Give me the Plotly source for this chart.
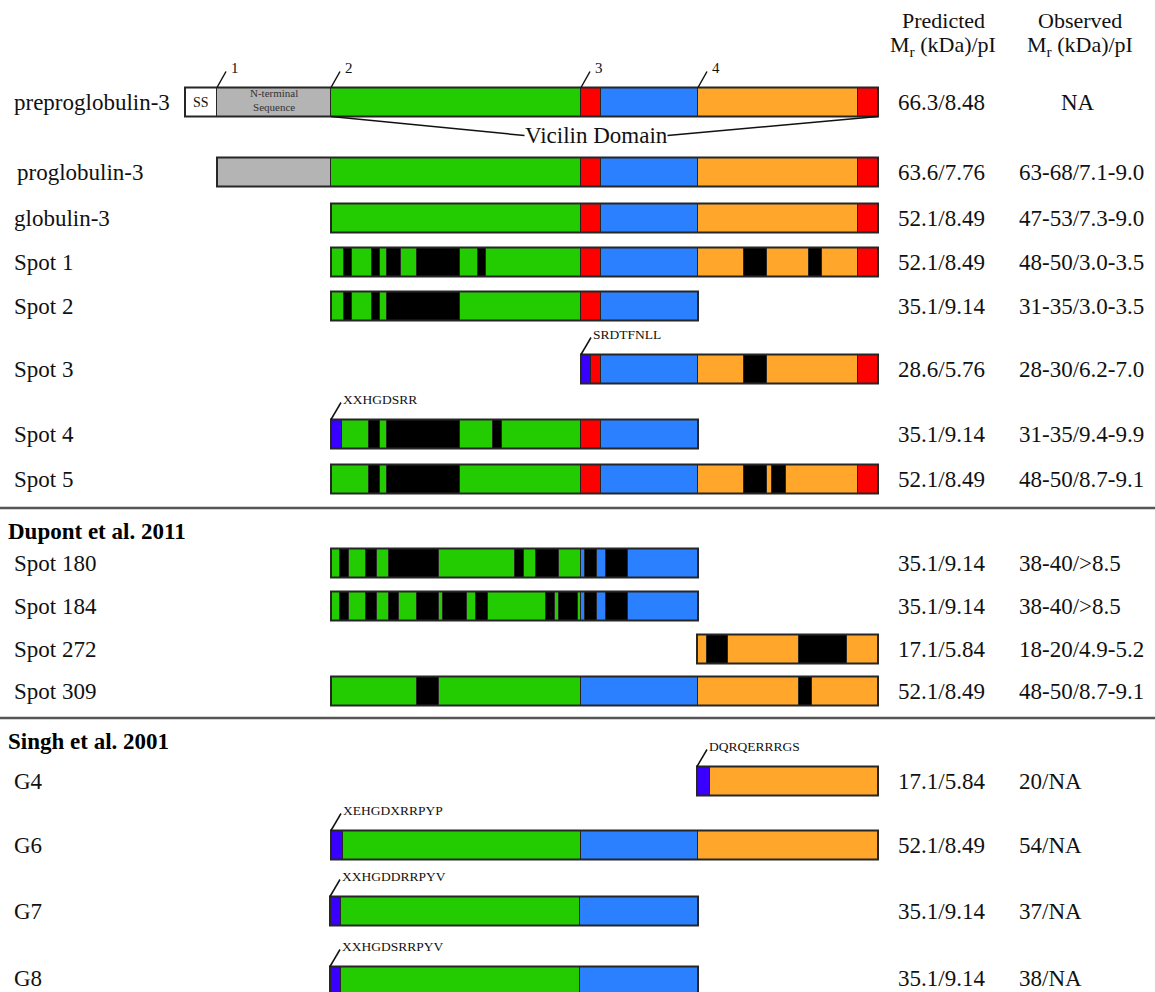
import plotly.graph_objects as go

# ---------------- data ----------------
row_labels = ["preproglobulin-3", "proglobulin-3", "globulin-3", "Spot 1", "Spot 2", "Spot 3",
              "Spot 4", "Spot 5", "Spot 180", "Spot 184", "Spot 272", "Spot 309",
              "G4", "G6", "G7", "G8"]
predicted = ["66.3/8.48", "63.6/7.76", "52.1/8.49", "52.1/8.49", "35.1/9.14", "28.6/5.76",
             "35.1/9.14", "52.1/8.49", "35.1/9.14", "35.1/9.14", "17.1/5.84", "52.1/8.49",
             "17.1/5.84", "52.1/8.49", "35.1/9.14", "35.1/9.14"]
observed = ["NA", "63-68/7.1-9.0", "47-53/7.3-9.0", "48-50/3.0-3.5", "31-35/3.0-3.5", "28-30/6.2-7.0",
            "31-35/9.4-9.9", "48-50/8.7-9.1", "38-40/>8.5", "38-40/>8.5", "18-20/4.9-5.2", "48-50/8.7-9.1",
            "20/NA", "54/NA", "37/NA", "38/NA"]

# segments: (start, end, kind) along the protein axis
seg_prepro = [(185, 217, "ss"), (217, 331, "nt"), (331, 581, "g"), (581, 601, "r"), (601, 698, "b"), (698, 858, "o"), (858, 878, "r")]
seg_pro = [(217, 331, "nt"), (331, 581, "g"), (581, 601, "r"), (601, 698, "b"), (698, 858, "o"), (858, 878, "r")]
seg_glob = [(331, 581, "g"), (581, 601, "r"), (601, 698, "b"), (698, 858, "o"), (858, 878, "r")]
seg_s1 = [(331, 344, "g"), (344, 352, "k"), (352, 372, "g"), (372, 380, "k"), (380, 387, "g"), (387, 401, "k"),
          (401, 417, "g"), (417, 460, "k"), (460, 478, "g"), (478, 486, "k"), (486, 581, "g"), (581, 601, "r"),
          (601, 698, "b"), (698, 744, "o"), (744, 767, "k"), (767, 809, "o"), (809, 822, "k"), (822, 858, "o"), (858, 878, "r")]
seg_s2 = [(331, 344, "g"), (344, 352, "k"), (352, 372, "g"), (372, 380, "k"), (380, 387, "g"), (387, 460, "k"),
          (460, 581, "g"), (581, 601, "r"), (601, 698, "b")]
seg_s3 = [(581, 591, "v"), (591, 601, "r"), (601, 698, "b"), (698, 744, "o"), (744, 767, "k"), (767, 858, "o"), (858, 878, "r")]
seg_s4 = [(331, 342, "v"), (342, 369, "g"), (369, 380, "k"), (380, 387, "g"), (387, 460, "k"), (460, 493, "g"),
          (493, 502, "k"), (502, 581, "g"), (581, 601, "r"), (601, 698, "b")]
seg_s5 = [(331, 369, "g"), (369, 380, "k"), (380, 387, "g"), (387, 460, "k"), (460, 581, "g"), (581, 601, "r"),
          (601, 698, "b"), (698, 744, "o"), (744, 767, "k"), (767, 772, "o"), (772, 786, "k"), (786, 858, "o"), (858, 878, "r")]
seg_s180 = [(331, 340, "g"), (340, 349, "k"), (349, 366, "g"), (366, 377, "k"), (377, 389, "g"), (389, 439, "k"),
            (439, 515, "g"), (515, 524, "k"), (524, 536, "g"), (536, 559, "k"), (559, 581, "g"), (581, 585, "b"),
            (585, 597, "k"), (597, 606, "b"), (606, 628, "k"), (628, 698, "b")]
seg_s184 = [(331, 340, "g"), (340, 349, "k"), (349, 366, "g"), (366, 377, "k"), (377, 389, "g"), (389, 399, "k"),
            (399, 417, "g"), (417, 439, "k"), (439, 443, "g"), (443, 467, "k"), (467, 476, "g"), (476, 488, "k"),
            (488, 546, "g"), (546, 555, "k"), (555, 559, "g"), (559, 578, "k"), (578, 581, "g"), (581, 585, "b"),
            (585, 597, "k"), (597, 606, "b"), (606, 628, "k"), (628, 698, "b")]
seg_s272 = [(697, 707, "o"), (707, 728, "k"), (728, 799, "o"), (799, 847, "k"), (847, 878, "o")]
seg_s309 = [(331, 417, "g"), (417, 439, "k"), (439, 581, "g"), (581, 698, "b"), (698, 799, "o"), (799, 812, "k"), (812, 878, "o")]
seg_g4 = [(697, 710, "v"), (710, 878, "o")]
seg_g6 = [(331, 343, "v"), (343, 581, "g"), (581, 698, "b"), (698, 878, "o")]
seg_g7 = [(330, 341, "v"), (341, 580, "g"), (580, 698, "b")]
seg_g8 = [(330, 341, "v"), (341, 580, "g"), (580, 698, "b")]

row_segments = [seg_prepro, seg_pro, seg_glob, seg_s1, seg_s2, seg_s3, seg_s4, seg_s5,
                seg_s180, seg_s184, seg_s272, seg_s309, seg_g4, seg_g6, seg_g7, seg_g8]

# N-terminal sequencing tags: (row index, sequence)
tag_rows = [5, 6, 12, 13, 14, 15]
tag_seqs = ["SRDTFNLL", "XXHGDSRR", "DQRQERRRGS", "XEHGDXRRPYP", "XXHGDDRRPYV", "XXHGDSRRPYV"]

# cleavage sites marked on preproglobulin
site_labels = ["1", "2", "3", "4"]
site_positions = [217, 331, 581, 698]

section_titles = ["Dupont et al. 2011", "Singh et al. 2001"]

# ---------------- layout / style ----------------
row_y = [102, 172, 218, 262, 306, 369, 434, 479, 563, 606, 649, 691, 781, 845, 911, 981]
label_dy = [0, 0, 0, 0, 0, 0, 0, 0, 0, 0, 0, 0, 0, 0, 0, -3]
section_y = [531, 741]
separator_y = [508, 718]
BAR_H = 29
colors = {"ss": "#FFFFFF", "nt": "#B4B4B4", "g": "#22CC00", "r": "#FF0000", "b": "#2A80FF",
          "o": "#FFA62B", "k": "#000000", "v": "#3A00FF"}
SERIF = "Liberation Serif, Times New Roman, serif"
EDGE = "#262626"
FS = 23

fig = go.Figure()

# bars grouped by colour
for kind, col in colors.items():
    ys, bases, lens = [], [], []
    for ri, segs in enumerate(row_segments):
        for s, e, k in segs:
            if k == kind:
                ys.append(row_y[ri]); bases.append(s); lens.append(e - s)
    if ys:
        fig.add_trace(go.Bar(orientation="h", y=ys, x=lens, base=bases, width=BAR_H,
                             marker=dict(color=col, line=dict(color=EDGE, width=1)),
                             showlegend=False, hoverinfo="skip"))

# outline of each bar
for ri, segs in enumerate(row_segments):
    x0 = min(s for s, _, _ in segs); x1 = max(e for _, e, _ in segs)
    fig.add_shape(type="rect", xref="x", yref="y", x0=x0, x1=x1,
                  y0=row_y[ri] - BAR_H / 2, y1=row_y[ri] + BAR_H / 2,
                  line=dict(color=EDGE, width=2), fillcolor="rgba(0,0,0,0)", layer="above")

ann = []
def txt(x, y, t, size=FS, xanchor="left", color="#111", bold=False, family=SERIF):
    ann.append(dict(x=x, y=y, xref="x", yref="y", text=(f"<b>{t}</b>" if bold else t), showarrow=False,
                    xanchor=xanchor, yanchor="middle", borderpad=0,
                    font=dict(family=family, size=size, color=color)))

# row labels and values
for i, lab in enumerate(row_labels):
    y = row_y[i] + label_dy[i]
    txt(13 if i != 1 else 16, y, lab)
    txt(897, y, predicted[i])
    if observed[i] == "NA":
        txt(1078, y, observed[i], xanchor="center")
    else:
        txt(1018, y, observed[i])

# headers
txt(943, 20, "Predicted", xanchor="center", size=22)
txt(943, 46, "M<sub>r</sub> (kDa)/pI", xanchor="center", size=22)
txt(1080, 20, "Observed", xanchor="center", size=22)
txt(1080, 46, "M<sub>r</sub> (kDa)/pI", xanchor="center", size=22)

# section titles and separators
for t, y in zip(section_titles, section_y):
    txt(7, y, t, size=23, bold=True, color="#000")
for y in separator_y:
    fig.add_shape(type="line", xref="x", yref="y", x0=0, x1=1155, y0=y, y1=y,
                  line=dict(color="#555555", width=2.5))

# preproglobulin details
pre_top = row_y[0] - BAR_H / 2
for lab, xp in zip(site_labels, site_positions):
    fig.add_shape(type="line", xref="x", yref="y", x0=xp, y0=pre_top, x1=xp + 9, y1=pre_top - 16,
                  line=dict(color="#111", width=1.5))
    txt(xp + 13, pre_top - 20, lab, size=15)
ss_seg = seg_prepro[0]; nt_seg = seg_prepro[1]
txt((ss_seg[0] + ss_seg[1]) / 2, row_y[0], "SS", size=14, xanchor="center")
ann.append(dict(x=(nt_seg[0] + nt_seg[1]) / 2, y=row_y[0] - 2, xref="x", yref="y",
                text="N-terminal<br>Sequence", showarrow=False, xanchor="center", yanchor="middle",
                font=dict(family=SERIF, size=11, color="#333")))

# vicilin domain bracket
vic_start = seg_prepro[2][0]; vic_end = seg_prepro[-1][1]
pre_bot = row_y[0] + BAR_H / 2
vic_mid = (vic_start + vic_end) / 2 - 8
fig.add_shape(type="line", xref="x", yref="y", x0=vic_start, y0=pre_bot, x1=vic_mid - 72, y1=pre_bot + 19,
              line=dict(color="#111", width=1.5))
fig.add_shape(type="line", xref="x", yref="y", x0=vic_end, y0=pre_bot, x1=vic_mid + 71, y1=pre_bot + 19,
              line=dict(color="#111", width=1.5))
txt(vic_mid, pre_bot + 19, "Vicilin Domain", xanchor="center", size=FS)

# N-terminal sequence tags
for ri, seq in zip(tag_rows, tag_seqs):
    x0 = row_segments[ri][0][0]
    top = row_y[ri] - BAR_H / 2
    fig.add_shape(type="line", xref="x", yref="y", x0=x0, y0=top, x1=x0 + 10, y1=top - 17,
                  line=dict(color="#111", width=1.5))
    txt(x0 + 11, top - 20, seq, size=13.5)

fig.update_layout(
    width=1155, height=992, margin=dict(l=0, r=0, t=0, b=0),
    paper_bgcolor="white", plot_bgcolor="white", barmode="overlay", bargap=0,
    xaxis=dict(range=[0, 1155], visible=False, fixedrange=True),
    yaxis=dict(range=[992, 0], visible=False, fixedrange=True),
    annotations=ann,
)

fig.write_html("out.html", config={"displayModeBar": False},
               post_script="document.body.style.margin='0';")
